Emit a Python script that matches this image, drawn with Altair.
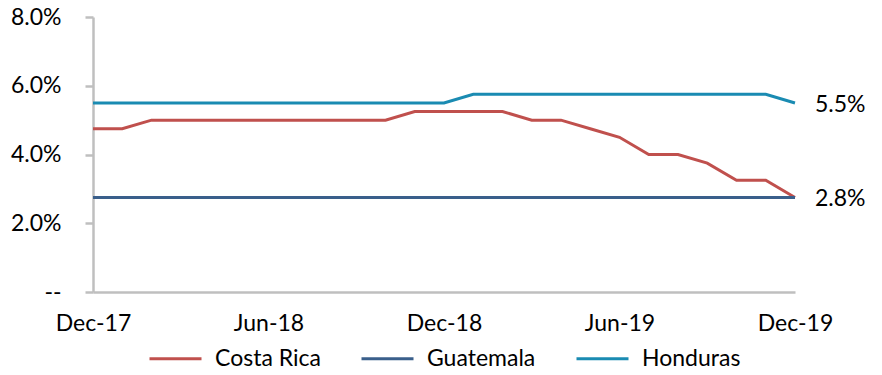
import altair as alt
import pandas as pd

months = ["Dec-17", "Jan-18", "Feb-18", "Mar-18", "Apr-18", "May-18", "Jun-18",
          "Jul-18", "Aug-18", "Sep-18", "Oct-18", "Nov-18", "Dec-18",
          "Jan-19", "Feb-19", "Mar-19", "Apr-19", "May-19", "Jun-19",
          "Jul-19", "Aug-19", "Sep-19", "Oct-19", "Nov-19", "Dec-19"]
costa_rica = [4.75, 4.75, 5.0, 5.0, 5.0, 5.0, 5.0, 5.0, 5.0, 5.0, 5.0, 5.25, 5.25,
              5.25, 5.25, 5.0, 5.0, 4.75, 4.5, 4.0, 4.0, 3.75, 3.25, 3.25, 2.75]
guatemala = [2.75] * 25
honduras = [5.5] * 13 + [5.75] * 11 + [5.5]
x_ticks = ["Dec-17", "Jun-18", "Dec-18", "Jun-19", "Dec-19"]
y_ticks = [0, 2, 4, 6, 8]
end_series = ["Honduras", "Guatemala"]
end_values = [5.5, 2.75]
end_texts = ["5.5%", "2.8%"]

series = {"Costa Rica": costa_rica, "Guatemala": guatemala, "Honduras": honduras}
rows = []
for name, vals in series.items():
    for m, v in zip(months, vals):
        rows.append({"month": m, "value": v, "country": name})
df = pd.DataFrame(rows)
ends = pd.DataFrame({"month": ["Dec-19"] * 2, "value": end_values,
                     "country": end_series, "label": end_texts})

FONT = "Lato"
FS = 23

x = alt.X("month:N", sort=months, title=None,
          scale=alt.Scale(type="point", padding=0),
          axis=alt.Axis(values=x_ticks, ticks=False, labelAngle=0,
                        labelFontSize=FS, labelFont=FONT, labelColor="#000000",
                        labelPadding=20, labelOverlap=False, labelFlush=False,
                        domainColor="#BFBFBF", domainWidth=2.5))
y = alt.Y("value:Q", title=None,
          scale=alt.Scale(domain=[0, 8], nice=False),
          axis=alt.Axis(values=y_ticks, grid=False, tickSize=8,
                        tickColor="#BFBFBF", tickWidth=2.5,
                        domainColor="#BFBFBF", domainWidth=2.5,
                        labelFontSize=FS, labelFont=FONT, labelColor="#000000",
                        labelPadding=24,
                        labelExpr="datum.value == 0 ? '--' : format(datum.value, '.1f') + '%'"))

lines = alt.Chart(df).mark_line(strokeWidth=3).encode(
    x=x, y=y,
    color=alt.Color("country:N", title=None,
                    scale=alt.Scale(domain=list(series.keys()),
                                    range=["#C0504D", "#3A5F8B", "#1A8BB2"]),
                    legend=alt.Legend(orient="none", direction="horizontal",
                                      legendX=55, legendY=314,
                                      symbolType="stroke", symbolSize=2704,
                                      symbolStrokeWidth=3, labelFontSize=FS,
                                      labelFont=FONT, labelColor="#000000",
                                      labelOffset=12, columnPadding=34,
                                      padding=0))
)

labels = alt.Chart(ends).mark_text(align="left", baseline="middle", dx=20, dy=2,
                                    fontSize=FS, font=FONT, color="#000000").encode(
    x=alt.X("month:N", sort=months), y="value:Q", text="label:N"
)

chart = (lines + labels).properties(
    width=702, height=275,
    autosize=alt.AutoSizeParams(type="none"),
    padding={"left": 85, "top": 9, "right": 79, "bottom": 75}
).configure_view(stroke=None)

chart.save("out.html", embed_options={"renderer": "svg", "actions": False})
